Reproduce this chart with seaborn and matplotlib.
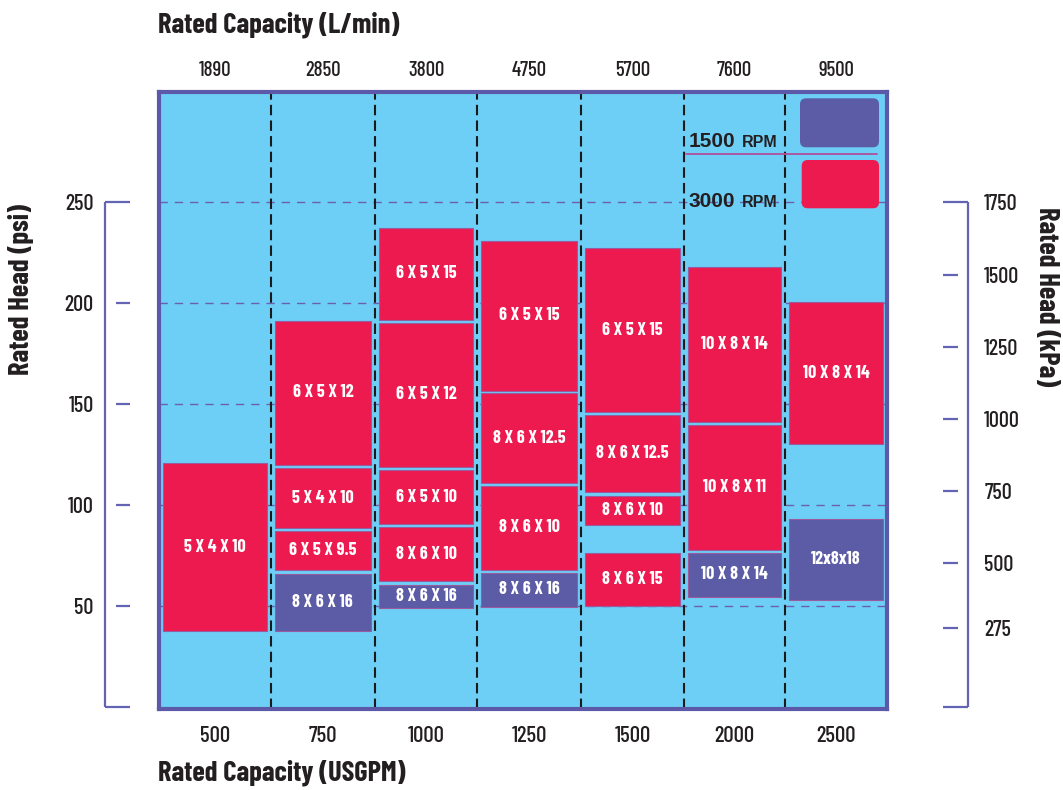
import matplotlib
matplotlib.use("Agg")
import matplotlib.pyplot as plt
from matplotlib.patches import FancyBboxPatch
import seaborn as sns
import pandas as pd
import numpy as np

# capacity columns
usgpm = ["500", "750", "1000", "1250", "1500", "2000", "2500"]
lpm = ["1890", "2850", "3800", "4750", "5700", "7600", "9500"]

# pump boxes: column, model, head range (psi), speed
box_col = [0, 1, 1, 1, 1, 2, 2, 2, 2, 2, 3, 3, 3, 3, 4, 4, 4, 4, 5, 5, 5, 6, 6]
box_model = ["5 X 4 X 10",
             "6 X 5 X 12", "5 X 4 X 10", "6 X 5 X 9.5", "8 X 6 X 16",
             "6 X 5 X 15", "6 X 5 X 12", "6 X 5 X 10", "8 X 6 X 10", "8 X 6 X 16",
             "6 X 5 X 15", "8 X 6 X 12.5", "8 X 6 X 10", "8 X 6 X 16",
             "6 X 5 X 15", "8 X 6 X 12.5", "8 X 6 X 10", "8 X 6 X 15",
             "10 X 8 X 14", "10 X 8 X 11", "10 X 8 X 14",
             "10 X 8 X 14", "12x8x18"]
box_low = [37.5,
           120, 88.5, 68, 37.5,
           192, 119, 90.5, 62.5, 49,
           156.5, 111, 68, 49.5,
           146, 106.5, 90, 50,
           141, 78, 54.5,
           130.5, 53]
box_high = [121,
            191.5, 118.5, 87, 66,
            237.5, 190.5, 117.5, 89, 60.5,
            231, 155.5, 109.5, 66.5,
            227.5, 144.5, 104.5, 76.5,
            218, 139.5, 76.5,
            200.5, 93]
box_rpm = [3000,
           3000, 3000, 3000, 1500,
           3000, 3000, 3000, 3000, 1500,
           3000, 3000, 3000, 1500,
           3000, 3000, 3000, 3000,
           3000, 3000, 1500,
           3000, 1500]

psi_ticks = [50, 100, 150, 200, 250]
kpa_ticks = [275, 500, 750, 1000, 1250, 1500, 1750]
kpa_per_psi = 7.0  # scale of the right-hand bracket

df = pd.DataFrame({"col": box_col, "model": box_model, "low": box_low,
                   "high": box_high, "rpm": box_rpm})

# layout
col_edges = np.array([-0.5, 0.574, 1.577, 2.561, 3.558, 4.548, 5.519, 6.5])
centers = (col_edges[:-1] + col_edges[1:]) / 2
widths = np.diff(col_edges) - 0.077

sky = "#6dcff6"
red = "#ed1a4f"
navy = "#5b5ba6"
frame_c = "#5b59a8"
grid_c = "#6a5fb0"
ink = "#231f20"
rpm_colors = {3000: red, 1500: navy}

sns.set_style("white")
cond = ["Barlow Condensed", "Saira SemiCondensed", "DejaVu Sans"]
arial = ["Liberation Sans", "DejaVu Sans"]
plt.rcParams["font.family"] = cond
plt.rcParams["font.weight"] = "medium"

W, H = 1063, 790
fig = plt.figure(figsize=(W / 100, H / 100), dpi=100)
ax_l, ax_r, ax_t, ax_b = 159, 887, 91.5, 709
ax = fig.add_axes([ax_l / W, 1 - ax_b / H, (ax_r - ax_l) / W, (ax_b - ax_t) / H])
ax.set_facecolor(sky)
ax.set_xlim(-0.5, 6.5)
ax.set_ylim(-1, 305)
for s in ax.spines.values():
    s.set_color(frame_c)
    s.set_linewidth(3)
    s.set_zorder(6)

# horizontal grid
ax.set_yticks(psi_ticks)
ax.set_yticklabels([str(v) for v in psi_ticks])
ax.grid(axis="y", color=grid_c, ls=(0, (6, 5)), lw=1.0)
ax.grid(axis="x", visible=False)
ax.set_axisbelow(True)
ax.tick_params(axis="y", length=0, pad=47, labelsize=16, labelcolor=ink)

# bottom labels
ax.set_xticks(centers)
ax.set_xticklabels(usgpm)
ax.tick_params(axis="x", length=0, pad=12, labelsize=16.5, labelcolor=ink)

# top labels
sec = ax.secondary_xaxis("top")
sec.set_xticks(centers)
sec.set_xticklabels(lpm)
sec.tick_params(length=0, pad=8, labelsize=15, labelcolor=ink)
sec.spines["top"].set_visible(False)

# pump boxes
for _, r in df.iterrows():
    c = int(r["col"])
    ax.bar(centers[c], r["high"] - r["low"], bottom=r["low"], width=widths[c],
           color=rpm_colors[r["rpm"]], edgecolor="#9a5a9e", linewidth=0.8, zorder=2)
    ax.text(centers[c], (r["low"] + r["high"]) / 2, r["model"], ha="center", va="center",
            color="white", fontsize=13, fontweight="bold", zorder=4)

# column separators
for x in col_edges[1:-1]:
    ax.axvline(x, color="#1a1a1a", ls=(0, (5, 2.5)), lw=1.5, zorder=3)

# left bracket
yt = ax.get_yaxis_transform()
bx = (105 - ax_l) / (ax_r - ax_l)
t0 = (116 - ax_l) / (ax_r - ax_l)
t1 = (130 - ax_l) / (ax_r - ax_l)
kw = dict(color="#6464b4", lw=1.6, clip_on=False, solid_capstyle="butt")
ax.plot([bx, bx], [0, 250], transform=yt, **kw)
ax.plot([bx, t1], [0, 0], transform=yt, **kw)
ax.plot([bx, t1], [250, 250], transform=yt, **kw)
for v in psi_ticks[:-1]:
    ax.plot([t0, t1], [v, v], transform=yt, **kw)

# right kPa scale
ax2 = ax.twinx()
ax2.set_ylim(-1 * kpa_per_psi, 305 * kpa_per_psi)
ax2.set_yticks(kpa_ticks)
ax2.set_yticklabels([str(v) for v in kpa_ticks])
ax2.tick_params(axis="y", length=0, pad=70, labelsize=16, labelcolor=ink)
for s in ax2.spines.values():
    s.set_visible(False)
yt2 = ax2.get_yaxis_transform()
rbx = (968 - ax_l) / (ax_r - ax_l)
r0 = (943 - ax_l) / (ax_r - ax_l)
r1 = (958 - ax_l) / (ax_r - ax_l)
ax2.plot([rbx, rbx], [0, 1750], transform=yt2, **kw)
ax2.plot([r0, rbx], [0, 0], transform=yt2, **kw)
ax2.plot([r0, rbx], [1750, 1750], transform=yt2, **kw)
for v in kpa_ticks[:-1]:
    ax2.plot([r0, r1], [v, v], transform=yt2, **kw)

# legend
def axc(px, py):
    return (px - ax_l) / (ax_r - ax_l), (ax_b - py) / (ax_b - ax_t)

aspect = (ax_r - ax_l) / (ax_b - ax_t)
rad = 6 / (ax_r - ax_l)
for (x0, y0, x1, y1), col in [((800, 98.3, 879, 147.3), navy), ((801.7, 160, 879, 208.3), red)]:
    ax0, ay1 = axc(x0, y0)
    ax1_, ay0 = axc(x1, y1)
    ax2.add_patch(FancyBboxPatch((ax0, ay0), ax1_ - ax0, ay1 - ay0,
                                 boxstyle=f"round,pad=0,rounding_size={rad}",
                                 mutation_aspect=aspect, transform=ax.transAxes,
                                 facecolor=col, edgecolor="none", zorder=5, clip_on=False))
lx0, ly = axc(685.7, 154.3)
lx1, _ = axc(876.7, 154.3)
ax2.plot([lx0, lx1], [ly, ly], transform=ax.transAxes, color="#b0509c", lw=1.3, zorder=5)
for label, base in [("1500", 146.7), ("3000", 206.7)]:
    x, y = axc(688.3, base)
    ax2.text(x, y, label, transform=ax.transAxes, family=arial, fontsize=15,
             fontweight="bold", color=ink, va="baseline", ha="left", zorder=6)
    x, y = axc(741.7, base)
    ax2.text(x, y, "RPM", transform=ax.transAxes, family=arial, fontsize=11.5,
             fontweight="bold", color=ink, va="baseline", ha="left", zorder=6)

# titles
tkw = dict(fontsize=20.5, fontweight="bold", color=ink)
fig.text(157.5 / W, 1 - 33 / H, "Rated Capacity (L/min)", ha="left", va="baseline", **tkw)
fig.text(158 / W, 1 - 780 / H, "Rated Capacity (USGPM)", ha="left", va="baseline", **tkw)
fig.text(21.5 / W, 1 - 290 / H, "Rated Head (psi)", rotation=90, ha="center", va="center", **tkw)
fig.text(1047 / W, 1 - 296.5 / H, "Rated Head (kPa)", rotation=-90, ha="center", va="center", **tkw)

fig.savefig("out.png", dpi=100)
